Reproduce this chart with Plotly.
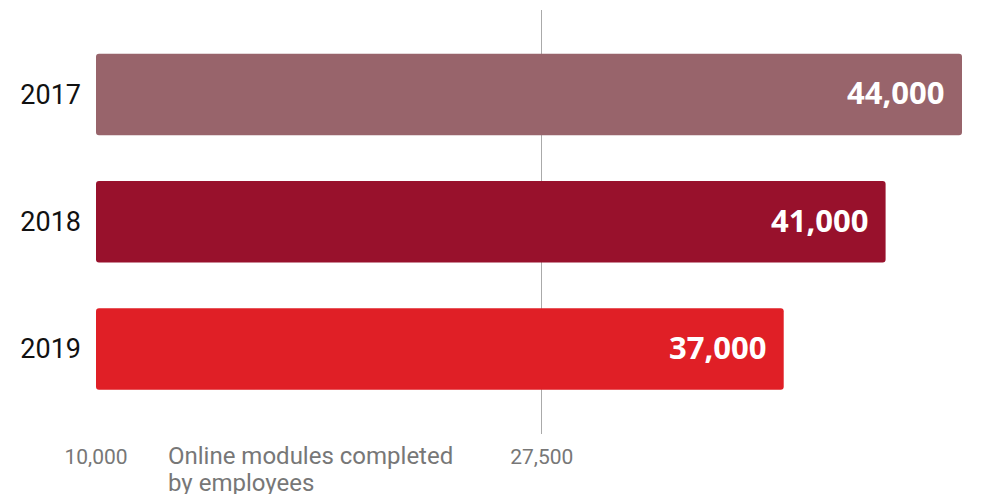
import plotly.graph_objects as go

years = ["2017", "2018", "2019"]
modules = [44000, 41000, 37000]
colors = ["#98646b", "#98112c", "#e01f26"]
x_ticks = [10000, 27500]
x_tick_labels = ["10,000", "27,500"]
axis_note = ["Online modules completed", "by employees"]

fig = go.Figure()
fig.add_trace(go.Bar(
    y=years, x=[v - 10000 for v in modules], base=10000,
    orientation="h", marker=dict(color=colors, cornerradius=3, line=dict(width=0)),
    width=0.64, hoverinfo="skip",
))
for i, v in enumerate(modules):
    fig.add_annotation(x=v, y=i, xref="x", yref="y", text=f"{v:,}",
                       showarrow=False, xanchor="right", xshift=-16, yshift=2,
                       font=dict(family="Open Sans", size=31, color="white", weight=700))
for j, line in enumerate(axis_note):
    fig.add_annotation(x=(170 - 96) / 866, y=0, xref="paper", yref="paper",
                       text=line, showarrow=False, xanchor="left", yanchor="middle",
                       xshift=-4, yshift=-22 - 27 * j, align="left",
                       font=dict(family="Roboto", size=24, color="#777777"))
fig.update_layout(
    width=975, height=486, margin=dict(l=88, r=21, t=2, b=60),
    paper_bgcolor="white", plot_bgcolor="white", showlegend=False,
    xaxis=dict(range=[10000, 44000], tickvals=x_ticks, ticktext=x_tick_labels,
               showgrid=True, gridcolor="#aaaaaa", gridwidth=1, zeroline=False,
               showline=False, ticklabelstandoff=8,
               tickfont=dict(family="Roboto", size=21, color="#777777")),
    yaxis=dict(type="category", range=[2.668, -0.664], showgrid=False, zeroline=False,
               showline=False, ticklabelstandoff=14,
               tickfont=dict(family="Roboto", size=27, color="#111111")),
)
fig.write_html("out.html")
